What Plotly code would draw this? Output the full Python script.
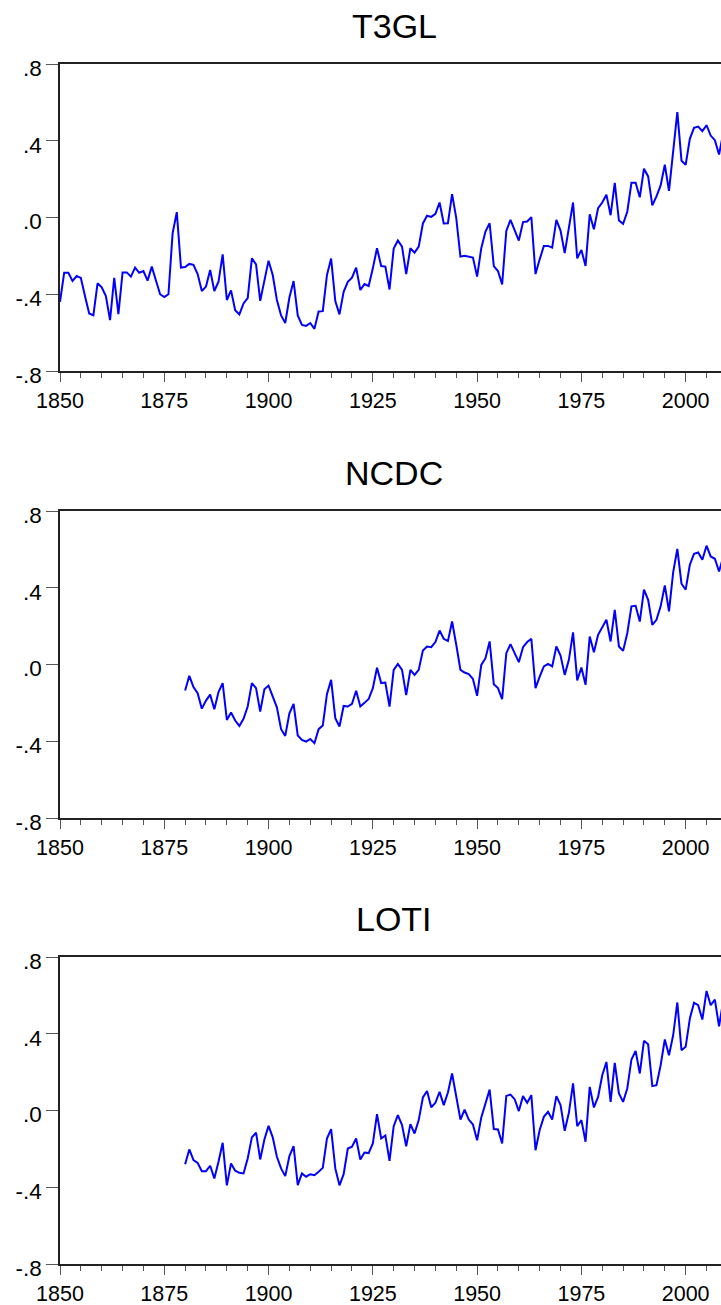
import plotly.graph_objects as go

# ---- data ----
t3gl_years = list(range(1850, 2010))
t3gl = [
    -0.440, -0.288, -0.288, -0.331, -0.305, -0.315, -0.410, -0.500, -0.510, -0.343,
    -0.364, -0.410, -0.535, -0.314, -0.504, -0.286, -0.286, -0.308, -0.261, -0.288,
    -0.279, -0.329, -0.256, -0.330, -0.400, -0.415, -0.400, -0.082, 0.028, -0.261,
    -0.258, -0.242, -0.247, -0.295, -0.383, -0.360, -0.274, -0.383, -0.335, -0.192,
    -0.430, -0.380, -0.483, -0.505, -0.448, -0.420, -0.213, -0.244, -0.434, -0.329,
    -0.225, -0.300, -0.430, -0.510, -0.550, -0.417, -0.331, -0.510, -0.560, -0.565,
    -0.550, -0.580, -0.490, -0.488, -0.300, -0.214, -0.436, -0.505, -0.387, -0.335,
    -0.314, -0.261, -0.378, -0.347, -0.357, -0.265, -0.160, -0.253, -0.256, -0.375,
    -0.162, -0.120, -0.152, -0.295, -0.160, -0.183, -0.152, -0.031, 0.009, 0.003,
    0.019, 0.078, -0.031, -0.030, 0.122, -0.003, -0.204, -0.199, -0.204, -0.209,
    -0.308, -0.160, -0.073, -0.030, -0.253, -0.279, -0.349, -0.070, -0.012, -0.068,
    -0.120, -0.024, -0.021, 0.002, -0.295, -0.218, -0.148, -0.148, -0.157, -0.012,
    -0.068, -0.186, -0.064, 0.078, -0.213, -0.169, -0.253, 0.017, -0.061, 0.049,
    0.078, 0.119, 0.012, 0.180, -0.016, -0.033, 0.030, 0.181, 0.181, 0.105,
    0.254, 0.214, 0.063, 0.110, 0.167, 0.275, 0.139, 0.350, 0.549, 0.296,
    0.275, 0.410, 0.467, 0.474, 0.450, 0.481, 0.427, 0.403, 0.328, 0.440,
]

ncdc_years = list(range(1880, 2010))
ncdc = [
    -0.136, -0.059, -0.118, -0.150, -0.230, -0.188, -0.157, -0.233, -0.144, -0.097,
    -0.289, -0.250, -0.292, -0.320, -0.283, -0.219, -0.097, -0.123, -0.245, -0.129,
    -0.110, -0.163, -0.223, -0.337, -0.372, -0.254, -0.205, -0.370, -0.393, -0.402,
    -0.388, -0.410, -0.337, -0.318, -0.155, -0.080, -0.280, -0.323, -0.216, -0.219,
    -0.205, -0.137, -0.219, -0.200, -0.180, -0.123, -0.017, -0.097, -0.094, -0.219,
    -0.028, 0.003, -0.028, -0.160, -0.028, -0.054, -0.028, 0.073, 0.094, 0.090,
    0.117, 0.177, 0.134, 0.122, 0.224, 0.103, -0.028, -0.042, -0.050, -0.075,
    -0.163, -0.002, 0.033, 0.120, -0.103, -0.123, -0.180, 0.059, 0.106, 0.059,
    0.012, 0.090, 0.117, 0.134, -0.123, -0.063, -0.010, 0.003, -0.010, 0.094,
    0.047, -0.054, 0.024, 0.167, -0.083, -0.016, -0.106, 0.146, 0.064, 0.155,
    0.195, 0.233, 0.120, 0.285, 0.094, 0.071, 0.163, 0.303, 0.306, 0.224,
    0.390, 0.337, 0.207, 0.233, 0.303, 0.412, 0.277, 0.480, 0.602, 0.421,
    0.390, 0.520, 0.577, 0.584, 0.546, 0.619, 0.563, 0.551, 0.485, 0.560,
]

loti_years = list(range(1880, 2010))
loti = [
    -0.280, -0.203, -0.259, -0.273, -0.316, -0.316, -0.288, -0.354, -0.267, -0.168,
    -0.390, -0.276, -0.314, -0.325, -0.328, -0.250, -0.140, -0.115, -0.255, -0.151,
    -0.080, -0.140, -0.241, -0.302, -0.342, -0.238, -0.186, -0.389, -0.328, -0.345,
    -0.332, -0.337, -0.319, -0.299, -0.146, -0.097, -0.302, -0.390, -0.332, -0.198,
    -0.189, -0.146, -0.255, -0.219, -0.222, -0.172, -0.019, -0.146, -0.130, -0.262,
    -0.082, -0.024, -0.076, -0.186, -0.071, -0.120, -0.050, 0.068, 0.102, 0.017,
    0.040, 0.097, 0.028, 0.094, 0.193, 0.062, -0.047, 0.005, -0.047, -0.073,
    -0.155, -0.036, 0.036, 0.109, -0.097, -0.099, -0.172, 0.076, 0.083, 0.059,
    -0.003, 0.075, 0.040, 0.080, -0.207, -0.102, -0.033, -0.007, -0.047, 0.075,
    0.028, -0.106, -0.012, 0.141, -0.082, -0.050, -0.163, 0.123, 0.016, 0.071,
    0.184, 0.253, 0.045, 0.248, 0.089, 0.045, 0.115, 0.266, 0.311, 0.193,
    0.363, 0.345, 0.127, 0.132, 0.236, 0.370, 0.288, 0.392, 0.563, 0.314,
    0.332, 0.479, 0.561, 0.549, 0.474, 0.623, 0.549, 0.578, 0.439, 0.570,
]

titles = ["T3GL", "NCDC", "LOTI"]
series = [(t3gl_years, t3gl), (ncdc_years, ncdc), (loti_years, loti)]

x_tickvals = [1850, 1875, 1900, 1925, 1950, 1975, 2000]
x_ticktext = ["1850", "1875", "1900", "1925", "1950", "1975", "2000"]
y_tickvals = [-0.8, -0.4, 0.0, 0.4, 0.8]
y_ticktext = ["-.8", "-.4", ".0", ".4", ".8"]

# ---- layout geometry (pixels in a 721 x 1305 page) ----
W, H = 721, 1305
panel_px = [(64, 371), (511, 818), (957, 1264)]   # (top, bottom)
title_px = [26, 473, 919]
title_x_px = 394

FONT = "Liberation Sans, Arial, Helvetica, sans-serif"

fig = go.Figure()
layout = dict(
    width=W, height=H,
    margin=dict(l=60, r=0, t=0, b=0),
    paper_bgcolor="white", plot_bgcolor="white",
    showlegend=False,
    font=dict(family=FONT, color="black"),
    annotations=[],
)

for i, ((xs, ys), title, (top, bot), ty) in enumerate(zip(series, titles, panel_px, title_px)):
    n = "" if i == 0 else str(i + 1)
    fig.add_trace(go.Scatter(
        x=xs, y=ys, mode="lines",
        line=dict(color="#0000FF", width=2),
        xaxis="x" + n, yaxis="y" + n, hoverinfo="skip",
    ))
    layout["xaxis" + n] = dict(
        domain=[0, 1], anchor="y" + n,
        range=[1850, 2008.47],
        showline=True, linecolor="#222222", linewidth=2, mirror=True,
        ticks="outside", ticklen=9, tickwidth=1, tickcolor="#555555",
        tickvals=x_tickvals, ticktext=x_ticktext,
        tickfont=dict(family=FONT, size=21.5, color="black"),
        minor=dict(ticks="outside", dtick=5, tick0=1850, ticklen=5,
                   tickwidth=1, tickcolor="#555555", showgrid=False),
        showgrid=False, zeroline=False, automargin=False,
    )
    layout["yaxis" + n] = dict(
        domain=[1 - bot / H, 1 - top / H], anchor="x" + n,
        range=[-0.8, 0.8],
        showline=True, linecolor="#222222", linewidth=1.5, mirror=False,
        ticks="outside", ticklen=12, tickwidth=1, tickcolor="#555555",
        tickvals=y_tickvals, ticktext=y_ticktext,
        tickfont=dict(family=FONT, size=22.5, color="black"),
        ticklabelshift=4, ticklabelstandoff=0,
        showgrid=False, zeroline=False, automargin=False,
    )
    layout["annotations"].append(dict(
        text=title, xref="paper", yref="paper",
        x=(title_x_px - 60) / (W - 60), y=1 - ty / H,
        xanchor="center", yanchor="middle", showarrow=False,
        font=dict(family=FONT, size=34, color="black"),
    ))

fig.update_layout(**layout)
fig.write_html(
    "out.html",
    config={"displayModeBar": False},
    post_script="document.body.style.margin='0';document.body.style.overflow='hidden';",
)
